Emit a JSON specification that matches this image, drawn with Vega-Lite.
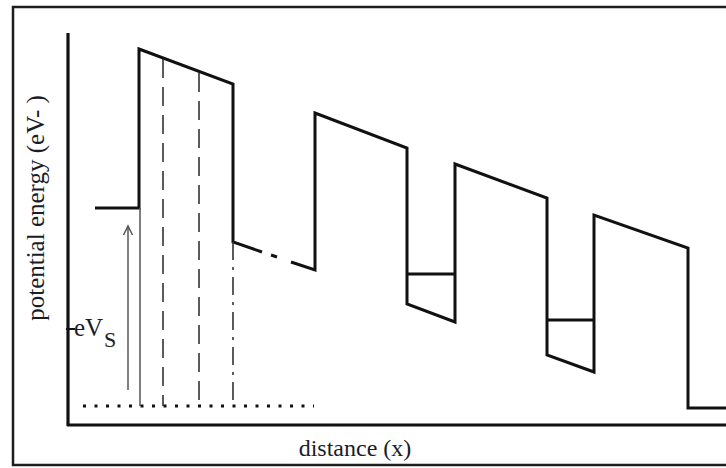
{
  "$schema": "https://vega.github.io/schema/vega-lite/v6.json",
  "width": 726,
  "height": 468,
  "padding": 0,
  "autosize": {"type": "fit", "contains": "padding"},
  "background": "white",
  "config": {"view": {"stroke": null}},
  "datasets": {
    "segs": [
      {"id": "fermiL", "style": "thick", "x": 95, "e": 260, "o": 1},
      {"id": "fermiL", "style": "thick", "x": 139, "e": 260, "o": 2},
      {"id": "fermiL", "style": "thick", "x": 139, "e": 419, "o": 3},
      {"id": "fermiL", "style": "thick", "x": 233, "e": 384, "o": 4},
      {"id": "fermiL", "style": "thick", "x": 233, "e": 226, "o": 5},
      {"id": "fermiL", "style": "thick", "x": 262, "e": 216, "o": 6},
      {"id": "gapdot", "style": "thick", "x": 271, "e": 213, "o": 1},
      {"id": "gapdot", "style": "thick", "x": 277, "e": 211, "o": 2},
      {"id": "wells", "style": "thick", "x": 291, "e": 206, "o": 1},
      {"id": "wells", "style": "thick", "x": 315, "e": 198, "o": 2},
      {"id": "wells", "style": "thick", "x": 315, "e": 355, "o": 3},
      {"id": "wells", "style": "thick", "x": 407, "e": 320, "o": 4},
      {"id": "wells", "style": "thick", "x": 407, "e": 164, "o": 5},
      {"id": "wells", "style": "thick", "x": 455, "e": 146, "o": 6},
      {"id": "wells", "style": "thick", "x": 455, "e": 304, "o": 7},
      {"id": "wells", "style": "thick", "x": 547, "e": 270, "o": 8},
      {"id": "wells", "style": "thick", "x": 547, "e": 113, "o": 9},
      {"id": "wells", "style": "thick", "x": 594, "e": 96, "o": 10},
      {"id": "wells", "style": "thick", "x": 594, "e": 253, "o": 11},
      {"id": "wells", "style": "thick", "x": 688, "e": 220, "o": 12},
      {"id": "wells", "style": "thick", "x": 688, "e": 60, "o": 13},
      {"id": "wells", "style": "thick", "x": 740, "e": 60, "o": 14},
      {"id": "level1", "style": "thick", "x": 407, "e": 194, "o": 1},
      {"id": "level1", "style": "thick", "x": 455, "e": 194, "o": 2},
      {"id": "level2", "style": "thick", "x": 547, "e": 148, "o": 1},
      {"id": "level2", "style": "thick", "x": 594, "e": 148, "o": 2},
      {"id": "yaxis", "style": "axis", "x": 68, "e": 435, "o": 1},
      {"id": "yaxis", "style": "axis", "x": 68, "e": 42, "o": 2},
      {"id": "xaxis", "style": "axis", "x": 67, "e": 43, "o": 1},
      {"id": "xaxis", "style": "axis", "x": 740, "e": 43, "o": 2},
      {"id": "tick", "style": "tick", "x": 66, "e": 139, "o": 1},
      {"id": "tick", "style": "tick", "x": 75, "e": 139, "o": 2},
      {"id": "thin139", "style": "thin", "x": 140, "e": 260, "o": 1},
      {"id": "thin139", "style": "thin", "x": 140, "e": 62, "o": 2},
      {"id": "arrow", "style": "thin", "x": 128, "e": 78, "o": 1},
      {"id": "arrow", "style": "thin", "x": 128, "e": 241, "o": 2},
      {"id": "arrowhead", "style": "thin", "x": 123.5, "e": 233, "o": 1},
      {"id": "arrowhead", "style": "thin", "x": 128, "e": 242, "o": 2},
      {"id": "arrowhead", "style": "thin", "x": 132.5, "e": 233, "o": 3},
      {"id": "d163", "style": "dash", "x": 163, "e": 409, "o": 1},
      {"id": "d163", "style": "dash", "x": 163, "e": 62, "o": 2},
      {"id": "d199", "style": "dash", "x": 199, "e": 395, "o": 1},
      {"id": "d199", "style": "dash", "x": 199, "e": 62, "o": 2},
      {"id": "dd233", "style": "dashdot", "x": 233, "e": 226, "o": 1},
      {"id": "dd233", "style": "dashdot", "x": 233, "e": 62, "o": 2},
      {"id": "dots", "style": "dot", "x": 83, "e": 62, "o": 1},
      {"id": "dots", "style": "dot", "x": 314, "e": 62, "o": 2}
    ],
    "frame": [{"x": 13, "x2": 760, "e": 461, "e2": 3}]
  },
  "encoding": {
    "x": {"field": "x", "type": "quantitative", "scale": {"domain": [0, 726], "nice": false, "zero": false}, "axis": null},
    "y": {"field": "e", "type": "quantitative", "scale": {"domain": [0, 468], "nice": false, "zero": false}, "axis": null}
  },
  "layer": [
    {
      "data": {"name": "frame"},
      "mark": {"type": "rect", "fill": "transparent", "stroke": "#1e1e1e", "strokeWidth": 2.5, "clip": true},
      "encoding": {"x2": {"field": "x2"}, "y2": {"field": "e2"}}
    },
    {
      "data": {"name": "segs"},
      "transform": [{"filter": "datum.style === 'axis'"}],
      "mark": {"type": "line", "color": "#111", "strokeWidth": 3.2, "strokeCap": "butt", "clip": true},
      "encoding": {"detail": {"field": "id"}, "order": {"field": "o"}}
    },
    {
      "data": {"name": "segs"},
      "transform": [{"filter": "datum.style === 'thick'"}],
      "mark": {"type": "line", "color": "#111", "strokeWidth": 3, "strokeJoin": "miter", "strokeCap": "butt", "clip": true},
      "encoding": {"detail": {"field": "id"}, "order": {"field": "o"}}
    },
    {
      "data": {"name": "segs"},
      "transform": [{"filter": "datum.style === 'tick'"}],
      "mark": {"type": "line", "color": "#111", "strokeWidth": 2},
      "encoding": {"detail": {"field": "id"}, "order": {"field": "o"}}
    },
    {
      "data": {"name": "segs"},
      "transform": [{"filter": "datum.style === 'thin'"}],
      "mark": {"type": "line", "color": "#555", "strokeWidth": 1.5},
      "encoding": {"detail": {"field": "id"}, "order": {"field": "o"}}
    },
    {
      "data": {"name": "segs"},
      "transform": [{"filter": "datum.style === 'dash'"}],
      "mark": {"type": "line", "color": "#333", "strokeWidth": 1.6, "strokeDash": [19, 9]},
      "encoding": {"detail": {"field": "id"}, "order": {"field": "o"}}
    },
    {
      "data": {"name": "segs"},
      "transform": [{"filter": "datum.style === 'dashdot'"}],
      "mark": {"type": "line", "color": "#333", "strokeWidth": 1.6, "strokeDash": [18, 7, 3, 7]},
      "encoding": {"detail": {"field": "id"}, "order": {"field": "o"}}
    },
    {
      "data": {"name": "segs"},
      "transform": [{"filter": "datum.style === 'dot'"}],
      "mark": {"type": "line", "color": "#111", "strokeWidth": 3, "strokeDash": [3, 8.5]},
      "encoding": {"detail": {"field": "id"}, "order": {"field": "o"}}
    },
    {
      "data": {"values": [{"label": "potential energy (eV- )", "x": 36, "e": 260}]},
      "mark": {"type": "text", "angle": 270, "align": "center", "baseline": "middle", "font": "Liberation Serif", "fontSize": 25, "color": "#1c1c28"},
      "encoding": {"text": {"field": "label"}}
    },
    {
      "data": {"values": [{"label": "distance (x)", "x": 355, "e": 12}]},
      "mark": {"type": "text", "align": "center", "baseline": "alphabetic", "font": "Liberation Serif", "fontSize": 24, "color": "#1c1c28"},
      "encoding": {"text": {"field": "label"}}
    },
    {
      "data": {"values": [{"label": "eV", "x": 74, "e": 132}]},
      "mark": {"type": "text", "align": "left", "baseline": "alphabetic", "font": "Liberation Serif", "fontSize": 25, "color": "#1c1c28"},
      "encoding": {"text": {"field": "label"}}
    },
    {
      "data": {"values": [{"label": "S", "x": 104, "e": 121}]},
      "mark": {"type": "text", "align": "left", "baseline": "alphabetic", "font": "Liberation Serif", "fontSize": 22, "color": "#1c1c28"},
      "encoding": {"text": {"field": "label"}}
    }
  ]
}
